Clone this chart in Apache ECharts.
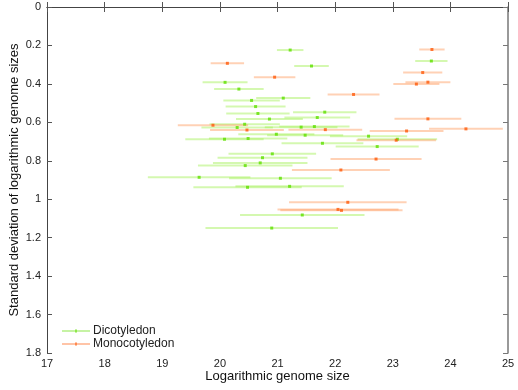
<!DOCTYPE html>
<html>
<head>
<meta charset="utf-8">
<script src="https://cdn.jsdelivr.net/npm/echarts@6/dist/echarts.min.js"></script>
<style>html,body{margin:0;padding:0;background:#fff}#c{width:518px;height:390px}</style>
</head>
<body>
<div id="c"></div>
<script>
// Dicotyledon: mean log genome size, std dev, half-width of horizontal bar
var dicotX   = [21.22,21.59,20.09,20.33,21.10,20.55,20.62,20.66,20.86,21.82,21.69,20.43,20.30,21.41,21.64,20.98,21.48,20.49,20.08,22.58,23.08,21.78,22.73,20.91,20.74,20.70,20.44,19.64,21.05,20.48,21.21,21.43,20.90,23.67];
var dicotY   = [0.224,0.307,0.392,0.427,0.474,0.486,0.518,0.554,0.583,0.547,0.575,0.610,0.627,0.625,0.622,0.662,0.667,0.684,0.688,0.672,0.688,0.709,0.726,0.764,0.784,0.811,0.825,0.886,0.891,0.938,0.933,1.082,1.150,0.281];
var dicotErr = [0.23,0.30,0.39,0.43,0.47,0.49,0.52,0.55,0.58,0.55,0.57,0.61,0.62,0.63,0.61,0.66,0.66,0.68,0.68,0.67,0.69,0.71,0.72,0.76,0.78,0.82,0.82,0.89,0.89,0.94,0.94,1.08,1.15,0.28];

// Monocotyledon
var monoX   = [20.13,20.95,19.88,20.47,23.68,23.52,23.61,23.41,22.32,23.61,21.83,23.24,24.27,23.06,22.71,22.10,22.22,22.05,22.11];
var monoY   = [0.293,0.365,0.615,0.640,0.221,0.341,0.391,0.401,0.455,0.582,0.638,0.645,0.634,0.693,0.791,0.848,1.016,1.053,1.058];
var monoErr = [0.29,0.36,0.61,0.64,0.22,0.34,0.39,0.40,0.45,0.58,0.64,0.64,0.64,0.69,0.79,0.85,1.02,1.05,1.06];

var seriesNames = ['Dicotyledon', 'Monocotyledon'];
var xTicks = [17,18,19,20,21,22,23,24,25];
var yTicks = [0,0.2,0.4,0.6,0.8,1,1.2,1.4,1.6,1.8];

function rows(xs, ys, es){ return xs.map(function(x,i){ return [x, ys[i], es[i]]; }); }

var cols = {
  Dicotyledon: {mark:'#5fe000', bar:'rgba(160,240,80,0.45)', legend:'#8ee84a'},
  Monocotyledon: {mark:'#ff5a0a', bar:'rgba(255,140,70,0.4)', legend:'#ff8a50'}
};

function errSeries(name, data){
  var c = cols[name].bar;
  return {
    type:'custom', name:name, data:data, z:2, silent:true,
    encode:{x:0,y:1},
    renderItem:function(params, api){
      var x = api.value(0), y = api.value(1), e = api.value(2);
      var p1 = api.coord([x - e, y]), p2 = api.coord([x + e, y]);
      return {type:'line', shape:{x1:p1[0], y1:p1[1], x2:p2[0], y2:p2[1]},
              style:{stroke:c, lineWidth:2}};
    }
  };
}
function ptSeries(name, data){
  return {type:'scatter', name:name, data:data, symbol:'rect', symbolSize:3, z:3,
          itemStyle:{color:cols[name].mark}};
}

var dData = rows(dicotX, dicotY, dicotErr);
var mData = rows(monoX, monoY, monoErr);

var axisLineStyle = {color:'#444', width:1};
var chart = echarts.init(document.getElementById('c'));
chart.setOption({
  animation:false,
  backgroundColor:'#fff',
  grid:{left:47, right:10, top:7, bottom:37, containLabel:false, outerBoundsMode:'none'},
  legend:{
    orient:'vertical', left:57, top:320, itemGap:1, itemWidth:28, itemHeight:5,
    textStyle:{fontFamily:'Liberation Sans, Arial, sans-serif', fontSize:12, lineHeight:12, color:'#222', padding:[0,0,0,-2]},
    data:[
      {name:'Dicotyledon', icon:'path://M0,2 L28,2 L28,3 L0,3 Z M13,1 L15,1 L15,4 L13,4 Z', itemStyle:{color:cols.Dicotyledon.legend}},
      {name:'Monocotyledon', icon:'path://M0,2 L28,2 L28,3 L0,3 Z M13,1 L15,1 L15,4 L13,4 Z', itemStyle:{color:cols.Monocotyledon.legend}}
    ]
  },
  xAxis:[
    {type:'value', min:xTicks[0], max:xTicks[xTicks.length-1], interval:1,
     name:'Logarithmic genome size', nameLocation:'middle', nameGap:17, nameMoveOverlap:false,
     nameTextStyle:{fontFamily:'Liberation Sans, Arial, sans-serif', fontSize:13, color:'#111'},
     axisLine:{show:true, lineStyle:axisLineStyle},
     axisTick:{show:true, inside:true, length:5, lineStyle:{color:'#555'}},
     axisLabel:{fontFamily:'Liberation Sans, Arial, sans-serif', fontSize:11, color:'#222', margin:5},
     splitLine:{show:false}},
    {type:'value', position:'top', min:xTicks[0], max:xTicks[xTicks.length-1], interval:1,
     axisLine:{show:true, lineStyle:axisLineStyle},
     axisTick:{show:true, inside:true, length:5, lineStyle:{color:'#555'}},
     axisLabel:{show:false}, splitLine:{show:false}}
  ],
  yAxis:[
    {type:'value', inverse:true, min:yTicks[0], max:yTicks[yTicks.length-1], interval:0.2,
     name:'Standard deviation of logarithmic genome sizes', nameLocation:'middle', nameGap:26, nameMoveOverlap:false,
     nameTextStyle:{fontFamily:'Liberation Sans, Arial, sans-serif', fontSize:13, color:'#111'},
     axisLine:{show:true, lineStyle:axisLineStyle},
     axisTick:{show:true, inside:true, length:5, lineStyle:{color:'#555'}},
     axisLabel:{fontFamily:'Liberation Sans, Arial, sans-serif', fontSize:11, color:'#222', margin:6},
     splitLine:{show:false}},
    {type:'value', position:'right', inverse:true, min:yTicks[0], max:yTicks[yTicks.length-1], interval:0.2,
     axisLine:{show:true, lineStyle:{color:'#777', width:1.5}},
     axisTick:{show:true, inside:true, length:5, lineStyle:{color:'#777'}},
     axisLabel:{show:false}, splitLine:{show:false}}
  ],
  series:[
    errSeries('Dicotyledon', dData),
    errSeries('Monocotyledon', mData),
    ptSeries('Dicotyledon', dData),
    ptSeries('Monocotyledon', mData)
  ]
});
</script>
</body>
</html>
